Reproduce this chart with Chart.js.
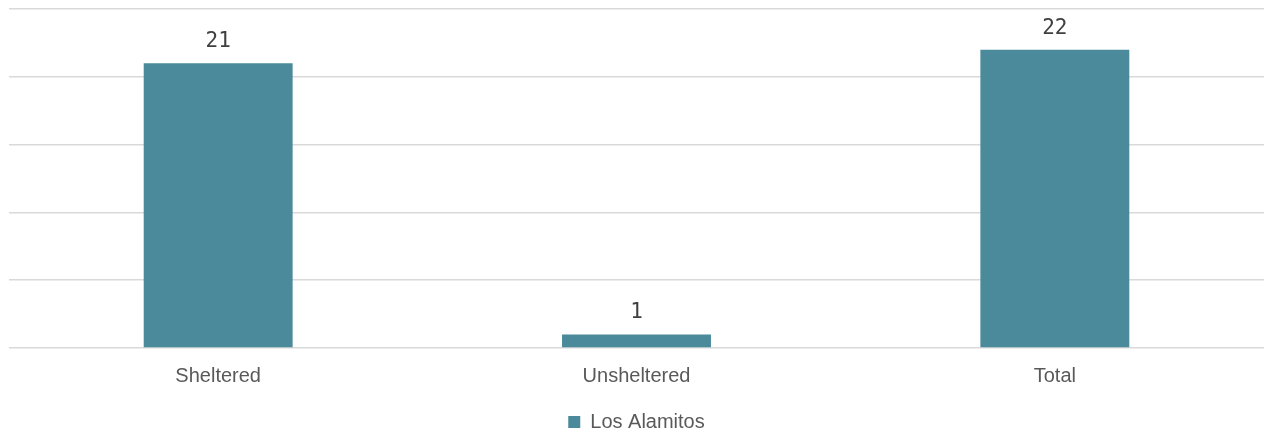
<!DOCTYPE html>
<html>
<head>
<meta charset="utf-8">
<script src="https://cdn.jsdelivr.net/npm/chart.js@4"></script>
<style>
  html, body { margin: 0; padding: 0; background: #fff; }
  #wrap { width: 1264px; height: 432px; }
</style>
</head>
<body>
<div id="wrap"><canvas id="chart"></canvas></div>
<script>
// 数据
const categories = ['Sheltered', 'Unsheltered', 'Total'];
const seriesName = 'Los Alamitos';
const values = [21, 1, 22];
const yTicks = [0, 5, 10, 15, 20, 25];

// 柱顶数值标签
const valueLabels = {
    id: 'valueLabels',
    afterDatasetsDraw(chart) {
        const ctx = chart.ctx;
        ctx.save();
        ctx.font = '21px "DejaVu Sans Mono", monospace';
        ctx.fillStyle = '#404040';
        ctx.textAlign = 'center';
        ctx.textBaseline = 'bottom';
        chart.getDatasetMeta(0).data.forEach(function(bar, i) {
            ctx.fillText(String(values[i]), bar.x, bar.y - 11);
        });
        ctx.restore();
    }
};

// 图例下移
const legendShift = {
    id: 'legendShift',
    afterLayout(chart) {
        if (chart.legend) {
            chart.legend.top += 10;
            chart.legend.bottom += 10;
        }
    }
};

new Chart(document.getElementById('chart'), {
    type: 'bar',
    data: {
        labels: categories,
        datasets: [{
            label: seriesName,
            data: values,
            backgroundColor: '#4A8A9A',
            borderWidth: 0,
            barPercentage: 0.356,
            categoryPercentage: 1
        }]
    },
    options: {
        responsive: true,
        maintainAspectRatio: false,
        animation: false,
        layout: { padding: { left: 9, right: 0, top: 9, bottom: 0 } },
        plugins: {
            legend: {
                position: 'bottom',
                labels: {
                    boxWidth: 12,
                    boxHeight: 12,
                    padding: 6,
                    color: '#595959',
                    font: { family: '"Liberation Sans", Arial, sans-serif', size: 20 }
                }
            },
            tooltip: { enabled: false }
        },
        scales: {
            x: {
                grid: { display: false },
                border: { display: false },
                ticks: {
                    color: '#595959',
                    padding: 8,
                    font: { family: '"Liberation Sans", Arial, sans-serif', size: 20 }
                }
            },
            y: {
                min: yTicks[0],
                max: yTicks[yTicks.length - 1],
                afterBuildTicks: function(axis) {
                    axis.ticks = yTicks.map(function(v) { return { value: v }; });
                },
                grid: { color: '#d9d9d9', lineWidth: 1.5, drawTicks: false },
                border: { display: false },
                ticks: { display: false }
            }
        }
    },
    plugins: [valueLabels, legendShift]
});
</script>
</body>
</html>
